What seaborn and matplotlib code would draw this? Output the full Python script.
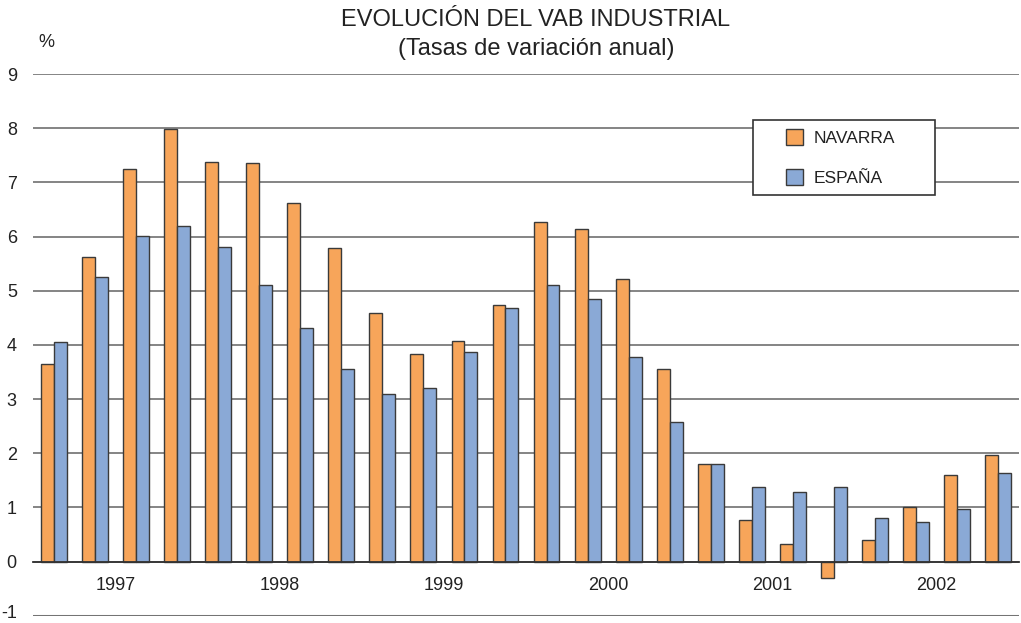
import matplotlib
matplotlib.use("Agg")
import numpy as np
import pandas as pd
import matplotlib.pyplot as plt
import matplotlib.transforms as mtransforms
import seaborn as sns
from matplotlib.patches import Rectangle

# data (quarterly, 1997-2002)
years = ["1997", "1998", "1999", "2000", "2001", "2002"]
quarters = ["I", "II", "III", "IV"]
navarra = [3.65, 5.62, 7.25, 7.99,
           7.38, 7.35, 6.62, 5.78,
           4.58, 3.83, 4.08, 4.73,
           6.27, 6.13, 5.22, 3.55,
           1.80, 0.77, 0.32, -0.30,
           0.40, 1.00, 1.60, 1.97]
espana = [4.06, 5.26, 6.01, 6.19,
          5.80, 5.10, 4.32, 3.55,
          3.10, 3.20, 3.86, 4.68,
          5.10, 4.84, 3.78, 2.57,
          1.80, 1.37, 1.29, 1.37,
          0.80, 0.74, 0.98, 1.63]
series = ["NAVARRA", "ESPAÑA"]
colors = ["#F7A55A", "#8AA9D6"]

labels = [y + "-" + q for y in years for q in quarters]
df = pd.DataFrame({
    "trimestre": labels * 2,
    "valor": navarra + espana,
    "serie": [series[0]] * len(labels) + [series[1]] * len(labels),
})

sns.set_style("white")
plt.rcParams["font.family"] = ["Liberation Sans", "DejaVu Sans"]
plt.rcParams["axes.unicode_minus"] = False

fig = plt.figure(figsize=(10.21, 6.23), dpi=100)
ax = fig.add_axes([0.0328, 0.0116, 0.9648, 0.8696])

sns.barplot(data=df, x="trimestre", y="valor", hue="serie", order=labels,
            hue_order=series, palette=colors, width=0.63, gap=0,
            edgecolor="#3a3a3a", linewidth=1.0, saturation=1, ax=ax)

ax.set_xlim(-0.5, len(labels) - 0.5)
ax.set_ylim(-1, 9)
ax.set_axisbelow(True)
ax.set_yticks(range(-1, 10))
ax.yaxis.grid(True, color="#707070", linewidth=1.2)
ax.axhline(-1, color="#8a8a8a", linewidth=2.2, zorder=0)
ax.tick_params(axis="y", length=0, pad=12, labelsize=13, labelcolor="#222222")

# year labels centered under each group, separator ticks between years
ax.set_xticks([4 * i + 1.5 for i in range(len(years))])
ax.set_xticklabels(years)
ax.set_xticks(np.arange(-0.5, len(labels), 4), minor=True)
ax.tick_params(axis="x", which="major", length=0, pad=11, labelsize=13, labelcolor="#222222")
ax.tick_params(axis="x", which="minor", direction="in", length=6, width=1, color="#333333")

for s in ["left", "right", "top"]:
    ax.spines[s].set_visible(False)
ax.spines["bottom"].set_position(("data", 0))
ax.spines["bottom"].set_color("#333333")
ax.spines["bottom"].set_linewidth(1.3)
ax.set_xlabel("")
ax.set_ylabel("")

# keep the "-1" label inside the figure
fig.canvas.draw()
lab = ax.get_yticklabels()[0]
lab.set_transform(lab.get_transform() + mtransforms.ScaledTranslation(0, 3 / 72, fig.dpi_scale_trans))

# legend in a white box
handles, hl = ax.get_legend_handles_labels()
ax.get_legend().remove()
box = Rectangle((0.7375, 0.687), 0.1783, 0.1204, transform=fig.transFigure,
                facecolor="white", edgecolor="#333333", linewidth=1.2, zorder=5)
fig.patches.append(box)
leg = fig.legend(handles, hl, loc="upper left", bbox_to_anchor=(0.7611, 0.8067),
                 frameon=False, fontsize=12.5, handlelength=1.0, handleheight=1.0,
                 handletextpad=0.6, labelspacing=1.35, borderpad=0)
leg.set_zorder(6)
for t in leg.get_texts():
    t.set_color("#222222")

fig.text(0.525, 0.968, "EVOLUCIÓN DEL VAB INDUSTRIAL", ha="center", va="center",
         fontsize=17, color="#222222")
fig.text(0.525, 0.921, "(Tasas de variación anual)", ha="center", va="center",
         fontsize=17, color="#222222")
fig.text(0.045, 0.931, "%", ha="center", va="center", fontsize=13, color="#222222")

fig.savefig("out.png", dpi=100)
